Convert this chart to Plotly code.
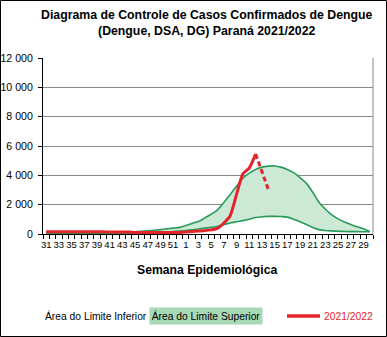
import plotly.graph_objects as go

# Epidemiological weeks 31/2021 .. 30/2022
weeks = list(range(31, 53)) + list(range(1, 31))

# Upper limit of the control diagram (cases per week)
upper_limit = [60, 60, 60, 60, 60, 60, 60, 60, 60, 70, 80, 90, 100, 120,
               150, 180, 220, 260, 300, 350, 400, 450, 580, 720, 850, 1100,
               1350, 1650, 2150, 2700, 3250, 3800, 4150, 4400, 4560, 4630,
               4640, 4560, 4400, 4180, 3850, 3450, 2850, 2150, 1700, 1300,
               1030, 820, 650, 500, 360, 170]

# Lower limit of the control diagram
lower_limit = [30, 30, 30, 30, 30, 30, 30, 30, 30, 30, 30, 30, 30, 30,
               30, 40, 60, 80, 100, 130, 160, 200, 240, 290, 340, 400,
               450, 530, 640, 750, 830, 910, 1000, 1120, 1180, 1200,
               1200, 1190, 1150, 1000, 840, 650, 450, 300, 240, 210,
               190, 170, 160, 160, 155, 150]

# Confirmed cases 2021/2022 (last weeks still being updated)
cases_confirmed = [150, 150, 150, 150, 150, 150, 150, 150, 150, 150, 130, 130,
                   130, 130, 110, 110, 110, 110, 110, 110, 110, 110, 130, 170,
                   200, 230, 280, 380, 750, 1250, 2700, 4100, 4500, 5450]
cases_provisional = [5450, 4250, 3050]

y_ticks = [0, 2000, 4000, 6000, 8000, 10000, 12000]
y_tick_text = ["0", "2 000", "4 000", "6 000", "8 000", "10 000", "12 000"]

FONT = "Arial, Liberation Sans, sans-serif"
GREEN_LINE = "#2a9a5b"
GREEN_FILL = "#cbe9d5"
RED = "#e3242b"

x = list(range(len(weeks)))
n_conf = len(cases_confirmed)
x_conf = x[:n_conf]
x_prov = x[n_conf - 1:n_conf - 1 + len(cases_provisional)]

fig = go.Figure()
fig.add_trace(go.Scatter(
    x=x, y=upper_limit, mode="lines", fill="tozeroy", fillcolor=GREEN_FILL,
    line=dict(color=GREEN_LINE, width=1.6, shape="spline", smoothing=0.8),
    name="Área do Limite Superior", hoverinfo="skip"))
fig.add_trace(go.Scatter(
    x=x, y=lower_limit, mode="lines", fill="tozeroy", fillcolor="white",
    line=dict(color=GREEN_LINE, width=1.6, shape="spline", smoothing=0.8),
    name="Área do Limite Inferior", hoverinfo="skip"))
fig.add_trace(go.Scatter(
    x=x_conf, y=cases_confirmed, mode="lines",
    line=dict(color=RED, width=3, shape="spline", smoothing=0.6),
    name="2021/2022"))
fig.add_trace(go.Scatter(
    x=x_prov, y=cases_provisional, mode="lines",
    line=dict(color=RED, width=3, dash="5px,3px"),
    name="2021/2022 (provisório)"))

L, R, T, B = 43, 14, 58, 103
W, H = 387, 337
pw, ph = W - L - R, H - T - B


def px_x(px):
    return (px - L) / pw


def px_y(py):
    return (T + ph - py) / ph


fig.update_layout(
    width=W, height=H,
    margin=dict(l=L, r=R, t=T, b=B, pad=0, autoexpand=False),
    paper_bgcolor="white", plot_bgcolor="white",
    showlegend=False,
    font=dict(family=FONT, color="black", size=10),
    xaxis=dict(
        range=[-0.5, len(weeks) - 0.5],
        tickmode="array",
        tickvals=x[::2], ticktext=[str(w) for w in weeks[::2]],
        tickangle=0, automargin=False,
        ticks="", showgrid=False, zeroline=False,
        showline=True, linecolor="black", linewidth=1,
        tickfont=dict(size=9.5, family=FONT),
        ticklabelstandoff=2,
        minor=dict(ticks="outside", ticklen=4, tickcolor="black",
                   tickmode="linear", tick0=0.5, dtick=1, showgrid=False),
    ),
    yaxis=dict(
        range=[0, 12000], automargin=False,
        tickmode="array", tickvals=y_ticks, ticktext=y_tick_text,
        ticks="outside", ticklen=4, tickcolor="black",
        showgrid=True, gridcolor="#8a8a8a", gridwidth=1,
        zeroline=False, showline=True, linecolor="black", linewidth=1,
        tickfont=dict(size=10.6, family=FONT),
        ticklabelstandoff=3,
    ),
)

# plot-area border on the right
fig.add_shape(type="line", xref="paper", yref="paper", x0=1, x1=1, y0=0, y1=1,
              line=dict(color="#8a8a8a", width=1))

# outer frame of the chart
frame = dict(color="black", width=1)
fx0, fx1 = px_x(0.5), px_x(W - 0.5)
fy0, fy1 = px_y(H - 0.5), px_y(0.5)
for a, b, c, d in [(fx0, fy0, fx1, fy0), (fx0, fy1, fx1, fy1),
                   (fx0, fy0, fx0, fy1), (fx1, fy0, fx1, fy1)]:
    fig.add_shape(type="line", xref="paper", yref="paper",
                  x0=a, y0=b, x1=c, y1=d, line=frame)

# title
fig.add_annotation(
    text="<b>Diagrama de Controle de Casos Confirmados de Dengue<br>"
         "(Dengue, DSA, DG) Paraná 2021/2022</b>",
    xref="paper", yref="paper", x=px_x(207), y=px_y(22.5),
    xanchor="center", yanchor="middle", showarrow=False,
    font=dict(size=12.3, family=FONT, color="black"))

# x-axis title
fig.add_annotation(
    text="<b>Semana Epidemiológica</b>",
    xref="paper", yref="paper", x=px_x(207), y=px_y(270),
    xanchor="center", yanchor="middle", showarrow=False,
    font=dict(size=12.2, family=FONT, color="black"))

# legend
ly = px_y(316)
fig.add_annotation(
    text="Área do Limite Inferior", xref="paper", yref="paper",
    x=px_x(43), y=ly, xanchor="left", yanchor="middle", showarrow=False,
    font=dict(size=10.3, family=FONT, color="black"))
fig.add_annotation(
    text="Área do Limite Superior", xref="paper", yref="paper",
    x=px_x(206), y=ly, xanchor="center", yanchor="middle", showarrow=False,
    bgcolor="#a8d8b6", borderpad=2, width=108,
    font=dict(size=10.3, family=FONT, color="black"))
fig.add_shape(type="line", xref="paper", yref="paper",
              x0=px_x(287), x1=px_x(320), y0=ly, y1=ly,
              line=dict(color=RED, width=3.5))
fig.add_annotation(
    text="2021/2022", xref="paper", yref="paper",
    x=px_x(322), y=ly, xanchor="left", yanchor="middle", showarrow=False,
    font=dict(size=10.3, family=FONT, color=RED))

fig.write_html("out.html")
